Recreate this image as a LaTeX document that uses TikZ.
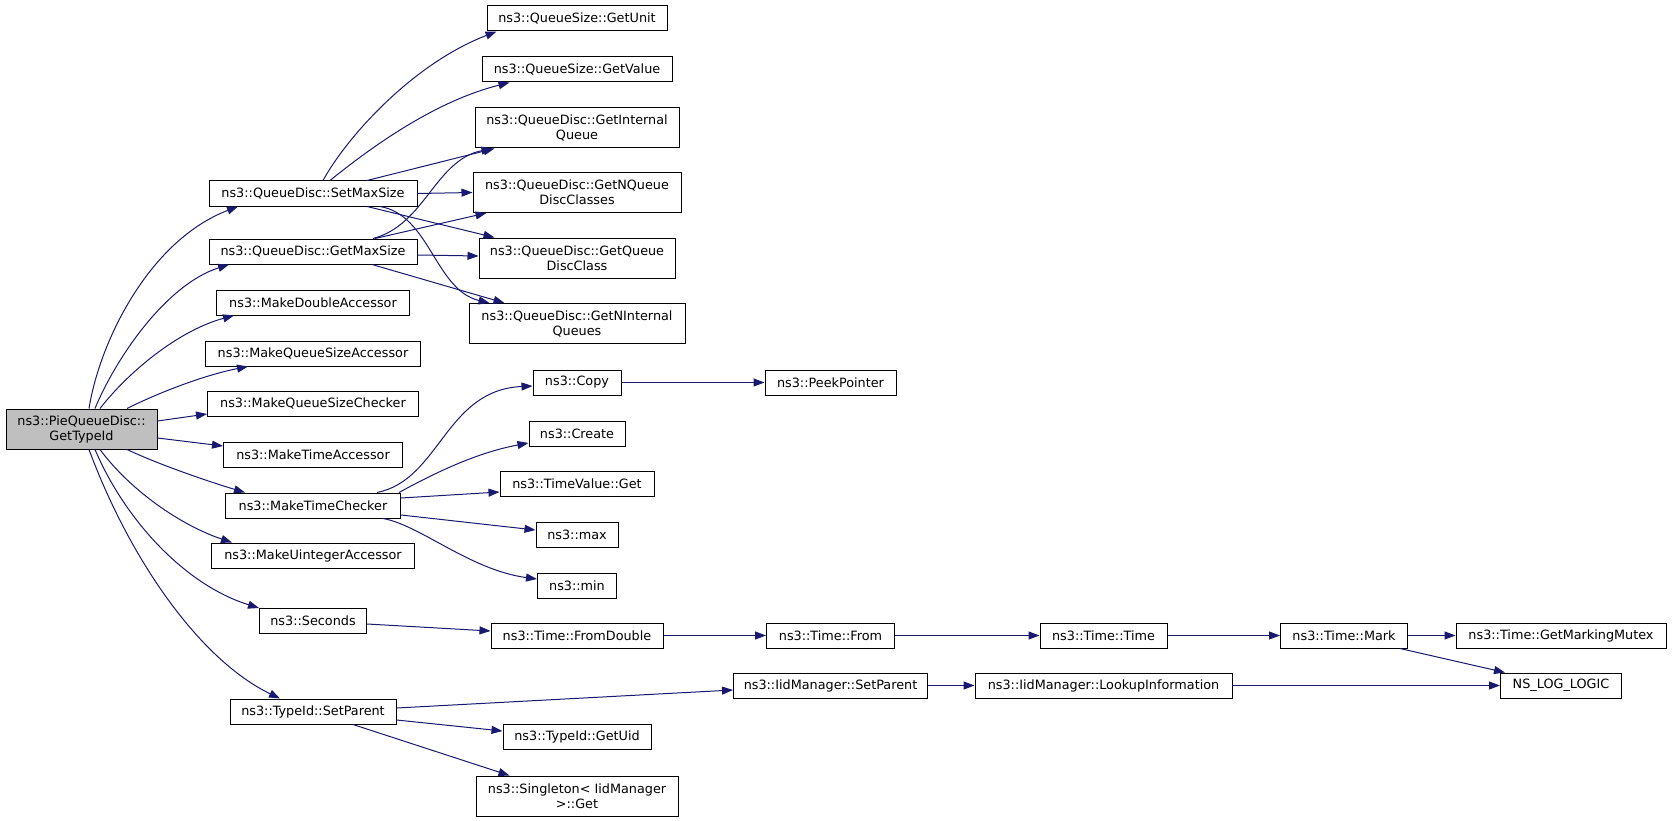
\documentclass[tikz,border=0pt]{standalone}
\usepackage{fontspec}
\setmainfont{DejaVu Sans}
\usetikzlibrary{arrows.meta}
\definecolor{edgeblue}{HTML}{191970}
\definecolor{rootgray}{HTML}{BFBFBF}
\begin{document}
\begin{tikzpicture}[x=1pt,y=-1pt,
  box/.style={draw=black, line width=1pt, fill=white, inner sep=0pt, minimum height=25pt, align=center, font=\fontsize{12.8}{15}\selectfont},
  tall/.style={minimum height=40pt},
  edge/.style={draw=edgeblue, line width=1pt, -{Triangle[length=11pt,width=8pt]}}]
\path[use as bounding box] (0,0) rectangle (1672,821);
% root
\node[box, tall, fill=rootgray, minimum width=151pt] (A) at (81.5,429) {ns3::PieQueueDisc::\\GetTypeId};
% column 2
\node[box, minimum width=208pt] (S) at (313,193.5) {ns3::QueueDisc::SetMaxSize};
\node[box, minimum width=208pt] (G) at (313,251.5) {ns3::QueueDisc::GetMaxSize};
\node[box, minimum width=193pt] (MDA) at (313,302.5) {ns3::MakeDoubleAccessor};
\node[box, minimum width=215pt] (MQSA) at (313,353.5) {ns3::MakeQueueSizeAccessor};
\node[box, minimum width=211pt] (MQSC) at (313,403.5) {ns3::MakeQueueSizeChecker};
\node[box, minimum width=179pt] (MTA) at (313,454.5) {ns3::MakeTimeAccessor};
\node[box, minimum width=175pt] (MTC) at (313,505.5) {ns3::MakeTimeChecker};
\node[box, minimum width=203pt] (MUA) at (313,555.5) {ns3::MakeUintegerAccessor};
\node[box, minimum width=107pt] (SEC) at (313,621) {ns3::Seconds};
\node[box, minimum width=166pt] (TSP) at (313,711.5) {ns3::TypeId::SetParent};
% column 3
\node[box, minimum width=180pt] (GU) at (577,18.5) {ns3::QueueSize::GetUnit};
\node[box, minimum width=190pt] (GV) at (577,69.5) {ns3::QueueSize::GetValue};
\node[box, tall, minimum width=204pt] (GIQ) at (577,128) {ns3::QueueDisc::GetInternal\\Queue};
\node[box, tall, minimum width=208pt] (GNQDC) at (577,192.5) {ns3::QueueDisc::GetNQueue\\DiscClasses};
\node[box, tall, minimum width=196pt] (GQDC) at (577,258) {ns3::QueueDisc::GetQueue\\DiscClass};
\node[box, tall, minimum width=216pt] (GNIQ) at (577,323.5) {ns3::QueueDisc::GetNInternal\\Queues};
\node[box, minimum width=88pt] (CP) at (577,382.5) {ns3::Copy};
\node[box, minimum width=96pt] (CR) at (577,433.5) {ns3::Create};
\node[box, minimum width=154pt] (TVG) at (577,484) {ns3::TimeValue::Get};
\node[box, minimum width=82pt] (MX) at (577,534.5) {ns3::max};
\node[box, minimum width=79pt] (MN) at (577,585.5) {ns3::min};
\node[box, minimum width=172pt] (FD) at (577,635.5) {ns3::Time::FromDouble};
\node[box, minimum width=148pt] (GUID) at (577,737) {ns3::TypeId::GetUid};
\node[box, tall, minimum width=202pt] (SG) at (577,796) {ns3::Singleton< IidManager\\ >::Get};
% column 4
\node[box, minimum width=131pt] (PP) at (830.5,382.5) {ns3::PeekPointer};
\node[box, minimum width=128pt] (TF) at (830.5,635.5) {ns3::Time::From};
\node[box, minimum width=194pt] (ISP) at (830.5,685.5) {ns3::IidManager::SetParent};
% column 5
\node[box, minimum width=127pt] (TT) at (1103.5,635.5) {ns3::Time::Time};
\node[box, minimum width=257pt] (LI) at (1103.5,685.5) {ns3::IidManager::LookupInformation};
% column 6
\node[box, minimum width=127pt] (TM) at (1344,635.5) {ns3::Time::Mark};
% column 7
\node[box, minimum width=210pt] (GMM) at (1561,635.5) {ns3::Time::GetMarkingMutex};
\node[box, minimum width=121pt] (NLL) at (1561,685.5) {NS\_LOG\_LOGIC};
% edges from root
\draw[edge] ([xshift=7.5pt]A.north) .. controls (100,340) and (150,240) .. ([xshift=-75pt]S.south);
\draw[edge] ([xshift=13.5pt]A.north) .. controls (115,360) and (165,285) .. ([xshift=-84pt]G.south);
\draw[edge] ([xshift=18.5pt]A.north) .. controls (130,370) and (180,330) .. ([xshift=-79pt]MDA.south);
\draw[edge] ([xshift=45.5pt]A.north) .. controls (160,392) and (205,375) .. ([xshift=-65pt]MQSA.south);
\draw[edge] ([yshift=8pt]A.east) -- ([yshift=-10.5pt]MQSC.west);
\draw[edge] ([yshift=-9pt]A.east) -- ([yshift=8.5pt]MTA.west);
\draw[edge] ([xshift=45.5pt]A.south) .. controls (160,465) and (210,482) .. ([xshift=-68pt]MTC.north);
\draw[edge] ([xshift=18.5pt]A.south) .. controls (130,490) and (180,525) .. ([xshift=-81pt]MUA.north);
\draw[edge] ([xshift=13.5pt]A.south) .. controls (125,520) and (185,585) .. (SEC.north west);
\draw[edge] ([xshift=7.5pt]A.south) .. controls (130,560) and (200,660) .. ([xshift=-33pt]TSP.north);
% SetMaxSize
\draw[edge] ([xshift=10pt]S.north) .. controls (345,140) and (410,65) .. ([xshift=10pt]GU.south west);
\draw[edge] ([xshift=17pt]S.north) .. controls (380,140) and (440,100) .. ([xshift=28pt]GV.south west);
\draw[edge] ([xshift=54pt]S.north) -- ([xshift=20pt]GIQ.south west);
\draw[edge] (S.east) -- (GNQDC.west);
\draw[edge] ([xshift=54pt]S.south) -- ([xshift=16pt]GQDC.north west);
\draw[edge] ([xshift=67pt]S.south) .. controls (430,215) and (435,290) .. ([xshift=21pt]GNIQ.north west);
% GetMaxSize
\draw[edge] ([xshift=60pt]G.north) .. controls (425,225) and (435,160) .. ([xshift=18pt]GIQ.south west);
\draw[edge] ([xshift=62pt]G.north) -- ([xshift=14pt]GNQDC.south west);
\draw[edge] ([yshift=-3.5pt]G.east) -- ([yshift=2pt]GQDC.west);
\draw[edge] ([xshift=59pt]G.south) -- ([xshift=36pt]GNIQ.north west);
% MakeTimeChecker
\draw[edge] ([xshift=64pt]MTC.north) .. controls (440,480) and (445,390) .. ([yshift=-3.5pt]CP.west);
\draw[edge] ([xshift=-2pt]MTC.north east) .. controls (440,470) and (480,452) .. ([yshift=-9.5pt]CR.west);
\draw[edge] ([yshift=7.5pt]MTC.east) -- ([yshift=-8pt]TVG.west);
\draw[edge] ([yshift=-9.5pt]MTC.east) -- ([yshift=4.5pt]MX.west);
\draw[edge] ([xshift=70pt]MTC.south) .. controls (420,525) and (470,570) .. ([yshift=6.5pt]MN.west);
\draw[edge] (CP.east) -- (PP.west);
% Seconds chain
\draw[edge] ([yshift=-3pt]SEC.east) -- ([yshift=4.5pt]FD.west);
\draw[edge] (FD.east) -- (TF.west);
\draw[edge] (TF.east) -- (TT.west);
\draw[edge] (TT.east) -- (TM.west);
\draw[edge] (TM.east) -- (GMM.west);
\draw[edge] ([xshift=56pt]TM.south) -- ([xshift=5pt]NLL.north west);
% SetParent
\draw[edge] ([yshift=3.5pt]TSP.east) -- ([yshift=-4.5pt]ISP.west);
\draw[edge] ([yshift=-8.5pt]TSP.east) -- ([yshift=6pt]GUID.west);
\draw[edge] ([xshift=40pt]TSP.south) -- ([xshift=34pt]SG.north west);
\draw[edge] (ISP.east) -- (LI.west);
\draw[edge] (LI.east) -- (NLL.west);
\end{tikzpicture}
\end{document}
